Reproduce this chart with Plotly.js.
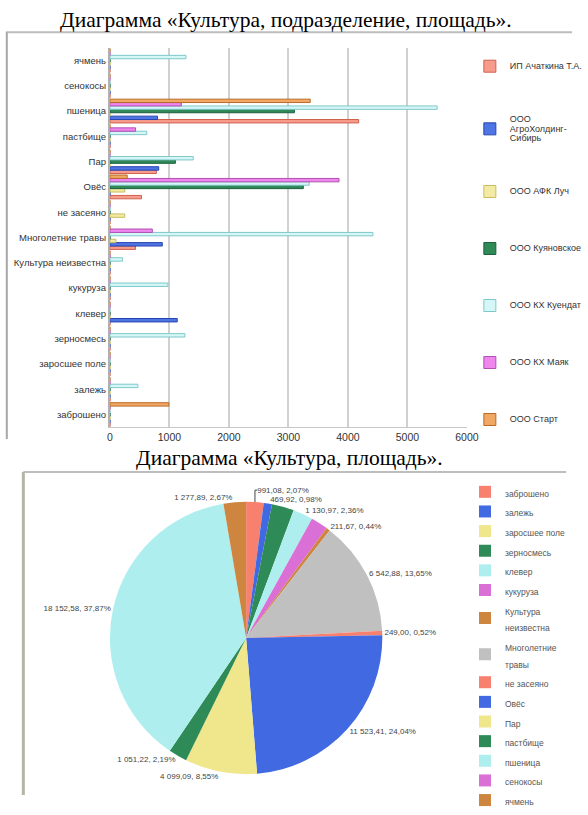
<!DOCTYPE html>
<html>
<head>
<meta charset="utf-8">
<script src="https://cdn.plot.ly/plotly-3.0.1.min.js"></script>
<style>
html,body{margin:0;padding:0;background:#fff;}
#chart{width:588px;height:815px;}
</style>
</head>
<body>
<div id="chart"></div>
<script>
// ---------- DATA ----------
const categories = ["заброшено","залежь","заросшее поле","зерносмесь","клевер","кукуруза","Культура неизвестна","Многолетние травы","не засеяно","Овёс","Пар","пастбище","пшеница","сенокосы","ячмень"];

const seriesNames = ["ИП Ачаткина Т.А.","ООО<br>АгроХолдинг-<br>Сибирь","ООО АФК Луч","ООО Куяновское","ООО КХ Куендат","ООО КХ Маяк","ООО Старт"];

// values per category (order = categories)
const ipAchatkina  = [0,0,0,0,0,0,0,430,0,530,780,0,4180,0,0];
const agroholding  = [0,0,0,0,1130.97,0,0,880,0,0,820,0,800,0,0];
const afkLuch      = [0,0,0,0,0,0,0,100,249,250,0,0,0,0,0];
const kuyanovskoe  = [0,0,0,0,0,0,0,0,0,3250,1100,0,3100,0,0];
const khKuendat    = [0,469.92,0,1260,0,974,211.67,4420,0,3350,1400,620,5500,0,1277.89];
const khMayak      = [0,0,0,0,0,0,0,713,0,3850,0,431.22,1200,0,0];
const start        = [991.08,0,0,0,0,0,0,0,0,290,0,0,3366,0,0];
const seriesValues = [ipAchatkina, agroholding, afkLuch, kuyanovskoe, khKuendat, khMayak, start];

const xTickVals = [0,1000,2000,3000,4000,5000,6000];

// pie: area by culture
const pieLabels = categories;
const pieValues = [991.08,469.92,0,1260,1130.97,974,211.67,6542.88,249.00,11523.41,4099.09,1051.22,18152.58,0,1277.89];
const pieShowLabel = [true,true,false,false,true,false,true,true,true,true,true,true,true,false,true];
const pieLegendLabels = ["заброшено","залежь","заросшее поле","зерносмесь","клевер","кукуруза","Культура<br>неизвестна","Многолетние<br>травы","не засеяно","Овёс","Пар","пастбище","пшеница","сенокосы","ячмень"];

// ---------- STYLE ----------
const W = 588, H = 815;
const px = x => x / W;
const py = y => 1 - y / H;
const sized = (txt, size) => txt.split("<br>").map(s => '<span style="font-size:' + size + 'px">' + s + '</span>').join("<br>");

const barFill = ["#F79C8C","#4F74E4","#F3EBA4","#2F8A58","#D6F7F7","#EE86EE","#F2A865"];
const barEdge = ["#D0604F","#2745B0","#C8BC60","#1C6040","#7FC8C8","#B050B0","#B86A28"];
const pieColors = ["#F8806F","#4169E1","#F0E68C","#2E8B57","#AFEEEE","#DA70D6","#CD853F","#C0C0C0"];

const traces = [];
seriesValues.forEach((vals, i) => {
  traces.push({
    type: "bar",
    orientation: "h",
    name: sized(seriesNames[i], 9),
    x: vals,
    y: categories,
    xaxis: "x",
    yaxis: "y",
    legend: "legend",
    legendgroup: "g" + i,
    marker: {color: barFill[i], line: {color: barEdge[i], width: 1}},
    hoverinfo: "none"
  });
});

const pieTemplate = pieShowLabel.map(s => s ? "%{value:,.2f}, %{percent:.2%}" : "");
traces.push({
  type: "pie",
  labels: pieLegendLabels.map(l => sized(l, 8.5)),
  values: pieValues,
  sort: false,
  direction: "clockwise",
  rotation: 0,
  textposition: "outside",
  texttemplate: pieTemplate,
  textfont: {family: "Liberation Sans, Arial", size: 8, color: "#444"},
  marker: {colors: pieLabels.map((_, i) => pieColors[i % pieColors.length]), line: {width: 0}},
  domain: {x: [px(113), px(393)], y: [py(794), py(514)]},
  legend: "legend2",
  hoverinfo: "none",
  showlegend: true
});

const frame = "#BDBDBD";
const layout = {
  width: W, height: H,
  margin: {l: 0, r: 0, t: 0, b: 0},
  paper_bgcolor: "#fff",
  plot_bgcolor: "#fff",
  separators: ", ",
  font: {family: "Liberation Sans, Arial, sans-serif", color: "#333"},
  barmode: "group",
  bargap: 0.06,
  bargroupgap: 0,
  xaxis: {
    domain: [px(113), px(480)],
    anchor: "y",
    range: [0, 6000],
    tickvals: xTickVals,
    ticktext: xTickVals.map(String),
    showgrid: true, gridcolor: "#D0D0D0", gridwidth: 2,
    zeroline: false, showline: true, linecolor: "#C8C8C8", linewidth: 1,
    ticks: "", tickfont: {size: 10.5, color: "#333"}, fixedrange: true
  },
  yaxis: {
    domain: [py(438), py(49)],
    anchor: "x",
    type: "category",
    categoryorder: "array",
    categoryarray: categories,
    showgrid: false, zeroline: false,
    showline: true, linecolor: "#B0B0B0", linewidth: 2,
    ticks: "", tickfont: {size: 9.5, color: "#333"}, fixedrange: true
  },
  legend: {
    x: px(483), y: py(53), xanchor: "left", yanchor: "top",
    bgcolor: "rgba(0,0,0,0)",
    traceorder: "grouped", tracegroupgap: 38,
    font: {size: 7, color: "#333"}
  },
  legend2: {
    x: px(478), y: py(489), xanchor: "left", yanchor: "top",
    bgcolor: "rgba(0,0,0,0)",
    traceorder: "normal",
    font: {size: 12.8, color: "#555"}
  },
  annotations: [
    {text: "Диаграмма «Культура, подразделение, площадь».", xref: "paper", yref: "paper",
     x: 0.5, y: py(20), xanchor: "center", yanchor: "middle", showarrow: false,
     font: {family: "Liberation Serif, Times New Roman, serif", size: 21.5, color: "#000"}},
    {text: "Диаграмма «Культура, площадь».", xref: "paper", yref: "paper",
     x: 0.506, y: py(470), xanchor: "center", yanchor: "middle", showarrow: false,
     font: {family: "Liberation Serif, Times New Roman, serif", size: 21.5, color: "#000"}}
  ],
  shapes: [
    {type: "line", xref: "paper", yref: "paper", x0: px(6), x1: 1, y0: py(33), y1: py(33), line: {color: frame, width: 2}},
    {type: "line", xref: "paper", yref: "paper", x0: px(7), x1: px(7), y0: py(33), y1: py(450), line: {color: "#A8A8A8", width: 2}},
    {type: "line", xref: "paper", yref: "paper", x0: px(24), x1: px(582), y0: py(484), y1: py(484), line: {color: frame, width: 2}},
    {type: "line", xref: "paper", yref: "paper", x0: px(24), x1: px(24), y0: py(484), y1: 0, line: {color: "#B5B5A5", width: 3}}
  ]
};

Plotly.newPlot("chart", traces, layout, {staticPlot: true, displayModeBar: false});
</script>
</body>
</html>
